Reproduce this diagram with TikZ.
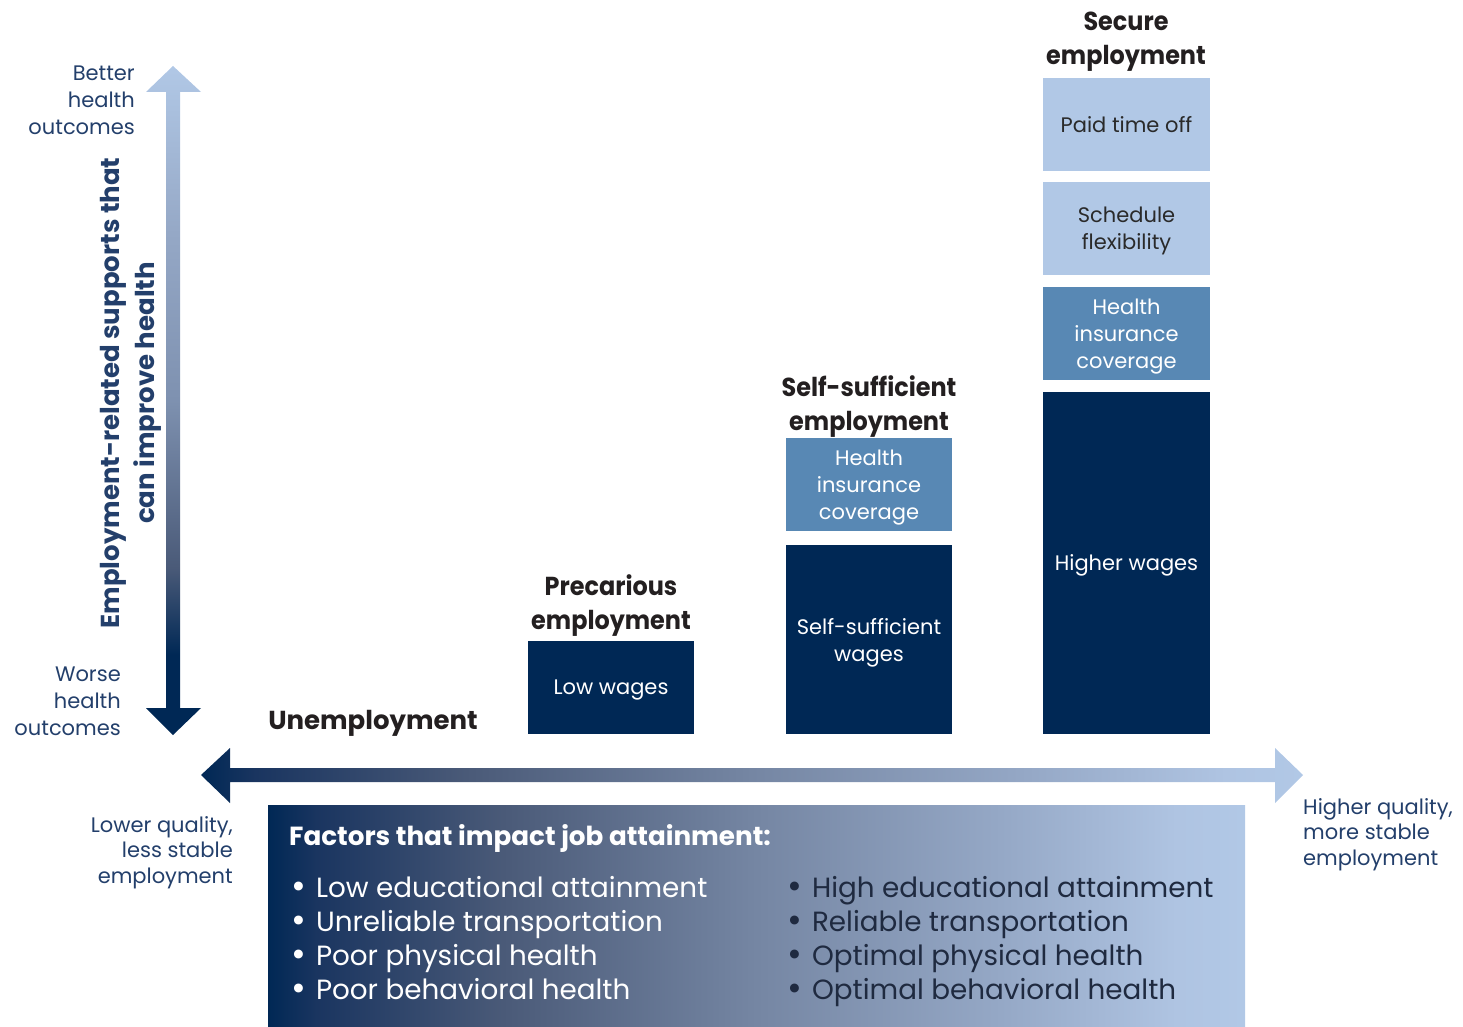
\documentclass[tikz,border=0pt]{standalone}
\usepackage{fontspec}
\setmainfont{Poppins}
\newfontfamily\headfont[FakeStretch=0.92]{Poppins}
\definecolor{navy}{HTML}{002855}
\definecolor{midblue}{HTML}{5888B4}
\definecolor{lightblue}{HTML}{B1C8E6}
\definecolor{labelblue}{HTML}{233F6B}
\definecolor{headgray}{HTML}{231F20}
\definecolor{boxtext}{HTML}{2A2A2A}
\definecolor{darkbullet}{HTML}{1F2A40}
\definecolor{shA}{HTML}{1A3560}
\definecolor{shB}{HTML}{4A5A78}
\definecolor{shC}{HTML}{7586A3}
\definecolor{shD}{HTML}{95A8C6}
\definecolor{shE}{HTML}{AFC4E2}
\definecolor{vshB}{HTML}{4A5A78}
\definecolor{vshC}{HTML}{7E91B0}
\pgfdeclarehorizontalshading{panelshade}{100bp}{color(0bp)=(navy); color(25bp)=(navy);
  color(27.5bp)=(shA); color(37bp)=(shB); color(50bp)=(shC); color(62.5bp)=(shD);
  color(71.5bp)=(shE); color(75bp)=(lightblue); color(100bp)=(lightblue)}
\pgfdeclareverticalshading{vaxisshade}{100bp}{color(0bp)=(navy); color(25bp)=(navy);
  color(31bp)=(navy); color(37.5bp)=(vshB); color(50bp)=(vshC); color(62.5bp)=(shD);
  color(75bp)=(lightblue); color(100bp)=(lightblue)}
\newcommand{\bigbul}{{\fontsize{36}{34}\selectfont\raisebox{-1pt}{•}}\hspace{10pt}}
\begin{document}
\begin{tikzpicture}[x=1pt,y=-1pt,
  box/.style={inner sep=0pt, minimum width=166, align=center, text depth=0pt, font=\fontsize{21}{27}\selectfont},
  navybox/.style={box, fill=navy, text=white},
  midbox/.style={box, fill=midblue, text=white},
  lightbox/.style={box, fill=lightblue, text=boxtext},
  heading/.style={inner sep=0pt, align=center, anchor=base, text=headgray, font=\headfont\fontsize{26}{34}\selectfont\bfseries},
  sidelabel/.style={inner sep=0pt, text=labelblue, font=\fontsize{21}{27}\selectfont},
  bulletline/.style={inner sep=0pt, anchor=base west, text=white, font=\fontsize{27.8}{34}\selectfont},
  bulletdark/.style={bulletline, text=darkbullet}
]
\useasboundingbox (0,0) rectangle (1463,1027);

% vertical gradient arrow
\shade[shading=vaxisshade]
  (173,66) -- (201,92) -- (180,92) -- (180,708) -- (201,708) -- (173,735)
  -- (146,708) -- (166,708) -- (166,92) -- (146,92) -- cycle;

% horizontal gradient arrow
\shade[shading=panelshade]
  (201,775) -- (230,748) -- (230,768) -- (1275,768) -- (1275,748) -- (1303,775)
  -- (1275,803) -- (1275,782) -- (230,782) -- (230,803) -- cycle;

% bottom factor panel
\shade[shading=panelshade] (268,805) rectangle (1245,1027);

% vertical axis labels
\node[sidelabel, align=right, anchor=base east] (better) at (135,135) {Better\\health\\outcomes};
\node[sidelabel, align=right, anchor=base east] (worse) at (121,735) {Worse\\health\\outcomes};
\node[inner sep=0pt, rotate=90, align=center, text=labelblue,
      font=\fontsize{26}{35}\selectfont\bfseries] (vlabel) at (131,393)
      {Employment-related supports that\\can improve health};

% horizontal axis labels
\node[sidelabel, align=right, anchor=base east, font=\fontsize{21}{25.5}\selectfont] (lower) at (233,883)
  {Lower quality,\\less stable\\employment};
\node[sidelabel, align=left, anchor=base west, font=\fontsize{21}{25.5}\selectfont] (higher) at (1303,865)
  {Higher quality,\\more stable\\employment};

% headings
\node[heading, font=\fontsize{26}{34}\selectfont\bfseries] (hunemp) at (373,729) {Unemployment};
\node[heading] (hprec) at (611,629) {Precarious\\employment};
\node[heading] (hself) at (869,430) {Self-sufficient\\employment};
\node[heading] (hsecure) at (1126,65) {Secure\\employment};

% boxes
\node[navybox, minimum height=93] (lowwages) at (611,687.5) {Low wages};
\node[midbox, minimum height=93] (ssins) at (869,484.5) {Health\\insurance\\coverage};
\node[navybox, minimum height=189] (sswages) at (869,639.5) {Self-sufficient\\wages};
\node[lightbox, minimum width=167, minimum height=93] (pto) at (1126.5,124.5) {Paid time off};
\node[lightbox, minimum width=167, minimum height=93] (sched) at (1126.5,228.5) {Schedule\\flexibility};
\node[midbox, minimum width=167, minimum height=93] (secins) at (1126.5,333.5) {Health\\insurance\\coverage};
\node[navybox, minimum width=167, minimum height=342] (higherwages) at (1126.5,563) {Higher wages};

% factors panel text
\node[inner sep=0pt, anchor=base west, text=white, font=\fontsize{26.2}{34}\selectfont\bfseries] (ftitle) at (289,845)
  {Factors that impact job attainment:};
\node[bulletline] (l1) at (291,897) {\bigbul Low educational attainment};
\node[bulletline] (l2) at (291,931) {\bigbul Unreliable transportation};
\node[bulletline] (l3) at (291,965) {\bigbul Poor physical health};
\node[bulletline] (l4) at (291,999) {\bigbul Poor behavioral health};
\node[bulletdark] (r1) at (787,897) {\bigbul High educational attainment};
\node[bulletdark] (r2) at (787,931) {\bigbul Reliable transportation};
\node[bulletdark] (r3) at (787,965) {\bigbul Optimal physical health};
\node[bulletdark] (r4) at (787,999) {\bigbul Optimal behavioral health};
\end{tikzpicture}
\end{document}
